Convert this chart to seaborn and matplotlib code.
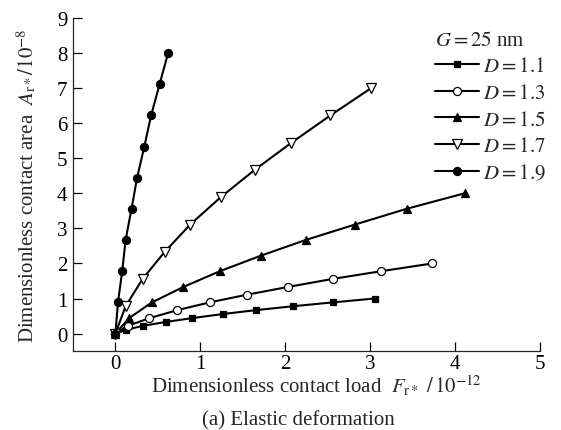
import numpy as np
import pandas as pd
import matplotlib
matplotlib.use("Agg")
import matplotlib.pyplot as plt
import seaborn as sns

# Dimensionless contact load F_r* (x 10^-12) and contact area A_r* (x 10^-8)
load_d11 = [0, 0.13, 0.32, 0.59, 0.90, 1.27, 1.66, 2.09, 2.56, 3.05]
area_d11 = [0, 0.11, 0.22, 0.33, 0.44, 0.56, 0.67, 0.78, 0.89, 1.00]

load_d13 = [0, 0.145, 0.40, 0.73, 1.11, 1.55, 2.03, 2.56, 3.13, 3.73]
area_d13 = [0, 0.22, 0.44, 0.67, 0.89, 1.11, 1.33, 1.56, 1.78, 2.00]

load_d15 = [0, 0.16, 0.43, 0.80, 1.23, 1.71, 2.24, 2.82, 3.43, 4.11]
area_d15 = [0, 0.44, 0.89, 1.33, 1.78, 2.22, 2.67, 3.11, 3.56, 4.00]

load_d17 = [0, 0.12, 0.32, 0.58, 0.88, 1.24, 1.64, 2.07, 2.53, 3.01]
area_d17 = [0, 0.78, 1.56, 2.33, 3.11, 3.89, 4.67, 5.44, 6.22, 7.00]

load_d19 = [0, 0.03, 0.08, 0.12, 0.19, 0.255, 0.34, 0.42, 0.52, 0.62]
area_d19 = [0, 0.89, 1.78, 2.67, 3.56, 4.44, 5.33, 6.22, 7.11, 8.00]

series_labels = ["1.1", "1.3", "1.5", "1.7", "1.9"]
x_ticks = [0, 1, 2, 3, 4, 5]
y_ticks = [0, 1, 2, 3, 4, 5, 6, 7, 8, 9]

sns.set_style("ticks")
plt.rcParams["font.family"] = ["Liberation Serif", "DejaVu Serif"]
plt.rcParams["mathtext.fontset"] = "stix"

FS = 15

series = [
    (load_d11, area_d11, "s", "black", 4.8),
    (load_d13, area_d13, "o", "white", 5.8),
    (load_d15, area_d15, "^", "black", 6.3),
    (load_d17, area_d17, "v", "white", 6.8),
    (load_d19, area_d19, "o", "black", 5.8),
]

fig = plt.figure(figsize=(5.61, 4.31), dpi=100)
ax = fig.add_axes([0.130, 0.183, 0.833, 0.773])

for (xs, ys, mk, fc, ms), lab in zip(series, series_labels):
    df = pd.DataFrame({"load": xs, "area": ys})
    sns.lineplot(data=df, x="load", y="area", ax=ax, sort=False, estimator=None,
                 color="black", linewidth=1.5, marker=mk, markersize=ms,
                 markerfacecolor=fc, markeredgecolor="black", markeredgewidth=0.9,
                 label=r"$D = %s$" % lab)

ax.set_xlim(-0.5, 5)
ax.set_ylim(-0.5, 9)
ax.set_xticks(x_ticks)
ax.set_yticks(y_ticks)
ax.tick_params(direction="in", length=6.5, width=0.9, labelsize=FS, colors="black")
ax.tick_params(axis="x", pad=2)
ax.tick_params(axis="y", pad=4)
for side in ["top", "right"]:
    ax.spines[side].set_visible(False)
for side in ["left", "bottom"]:
    ax.spines[side].set_linewidth(0.9)

ax.set_xlabel(r"Dimensionless contact load  $F_{\mathrm{r}*}\ /\,10^{-12}$", fontsize=FS)
ax.xaxis.set_label_coords(0.52, -0.065, transform=ax.transAxes)
ax.xaxis.label.set_va("top")
ax.set_ylabel(r"Dimensionless contact area  $A_{\mathrm{r}*}/10^{-8}$", fontsize=FS)
ax.yaxis.set_label_coords(-0.072, 0.5, transform=ax.transAxes)

leg = ax.legend(title=r"$G = 25$ nm", loc="upper left", bbox_to_anchor=(0.775, 0.962),
                frameon=False, fontsize=FS, title_fontsize=FS,
                handlelength=2.1, handletextpad=0.2, labelspacing=0.34,
                borderaxespad=0.0, borderpad=0.0)
leg._legend_box.align = "left"

fig.text(0.532, 0.012, "(a) Elastic deformation", ha="center", va="baseline",
         fontsize=FS)

fig.savefig("out.png", dpi=100)
